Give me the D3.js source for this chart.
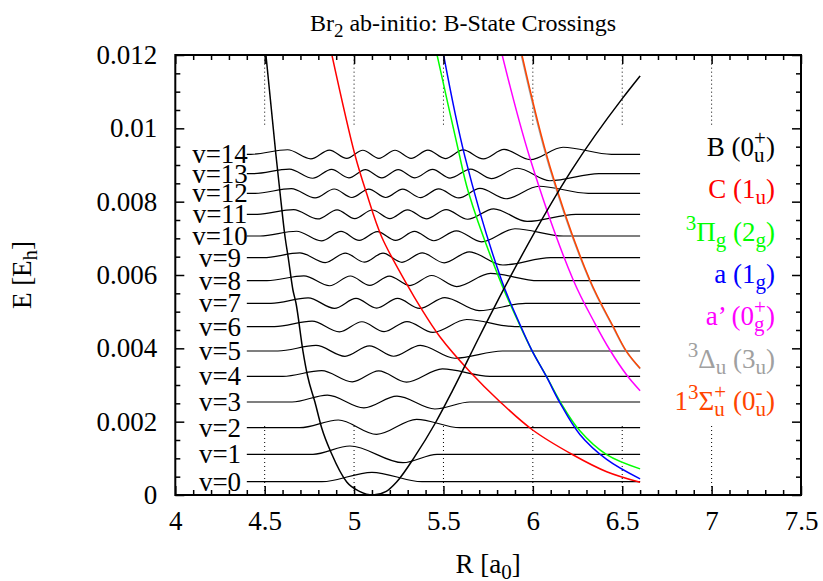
<!DOCTYPE html>
<html><head><meta charset="utf-8">
<script src="https://cdn.jsdelivr.net/npm/d3@7"></script>
<style>
body{margin:0;background:#fff}
svg text{font-family:"Liberation Serif","Times New Roman",Times,serif;fill:#000;white-space:pre}
</style>
</head><body>
<svg id="chart" width="823" height="581"></svg>
<script>
// ---------- data ----------
const xTicks = [4, 4.5, 5, 5.5, 6, 6.5, 7, 7.5];
const xTickLabels = ["4", "4.5", "5", "5.5", "6", "6.5", "7", "7.5"];
const yTicks = [0, 0.002, 0.004, 0.006, 0.008, 0.01, 0.012];
const yTickLabels = ["0", "0.002", "0.004", "0.006", "0.008", "0.01", "0.012"];
const gridR = [4.5, 5, 5.5, 6, 6.5, 7];
const gridGap = [0.00195, 0.0101];

// potential curves [R, E]
const curveB = [[4.507,0.0120],[4.563,0.009273],[4.586,0.008237],[4.614,0.007036],[4.632,0.006464],[4.658,0.005591],[4.675,0.005236],[4.714,0.003927],[4.740,0.003245],[4.781,0.002536],[4.819,0.001827],[4.875,0.001118],[4.959,0.000355],[5.03,0.0001],[5.105,0],[5.18,0.0001],[5.238,0.000355],[5.341,0.00106],[5.453,0.00195],[5.55,0.00284],[5.70,0.00431],[5.866,0.00588],[6.217,0.00886],[6.5,0.01081],[6.6,0.01143]];
const curveC = [[4.876,0.0120],[5.005,0.009273],[5.070,0.008228],[5.154,0.007045],[5.303,0.005681],[5.369,0.005136],[5.480,0.004317],[5.648,0.003363],[5.816,0.002545],[5.999,0.001773],[6.226,0.001091],[6.413,0.000635],[6.6,0.000346]];
const curvePi = [[5.462,0.01205],[5.583,0.00941],[5.639,0.00827],[5.816,0.00586],[5.928,0.00462],[5.993,0.00396],[6.077,0.00323],[6.151,0.00256],[6.263,0.00175],[6.413,0.00110],[6.6,0.000712]];
const curveA = [[5.499,0.01205],[5.620,0.00923],[5.825,0.00586],[5.928,0.00465],[5.993,0.00396],[6.077,0.00322],[6.151,0.00252],[6.263,0.00165],[6.413,0.00097],[6.6,0.000438]];
const curveAp = [[5.826,0.012047],[5.984,0.009183],[6.226,0.005864],[6.347,0.004683],[6.431,0.003955],[6.525,0.003273],[6.6,0.002845]];
const curveDelta = [[5.933,0.012047],[6.092,0.008954],[6.316,0.005864],[6.447,0.00459],[6.523,0.003908],[6.6,0.003440]];
const curveSigma = [[5.937,0.012047],[6.096,0.008954],[6.319,0.005864],[6.450,0.00459],[6.525,0.003908],[6.6,0.003455]];

// vibrational levels v=0..14
const vLabels = ["v=0","v=1","v=2","v=3","v=4","v=5","v=6","v=7","v=8","v=9","v=10","v=11","v=12","v=13","v=14"];
const levels = [0.000363,0.001110,0.001835,0.002536,0.003237,0.003927,0.004590,0.005228,0.005844,0.006472,0.007064,0.007656,0.008228,0.008763,0.009292];
const waveStart = 4.40, waveEnd = 6.6, vLabelR = 4.25;
const waveTails = [[4.820,5.380],[4.770,5.464],[4.697,5.592],[4.653,5.648],[4.602,5.76],[4.574,5.83],[4.555,5.90],[4.535,5.96],[4.513,6.03],[4.492,6.10],[4.474,6.17],[4.459,6.24],[4.446,6.31],[4.435,6.37],[4.423,6.44]];
const waveR = [
 [5.100],
 [4.977,5.274],
 [4.912,5.126,5.350],
 [4.851,5.055,5.240,5.452],
 [4.819,4.990,5.138,5.293,5.494],
 [4.787,4.949,5.086,5.221,5.371,5.563],
 [4.765,4.918,5.044,5.168,5.296,5.441,5.630],
 [4.743,4.890,5.011,5.126,5.243,5.367,5.508,5.699],
 [4.719,4.863,4.979,5.088,5.197,5.312,5.434,5.574,5.763],
 [4.697,4.839,4.951,5.057,5.162,5.268,5.381,5.504,5.644,5.832],
 [4.678,4.817,4.927,5.029,5.130,5.232,5.338,5.446,5.572,5.713,5.900],
 [4.662,4.797,4.905,5.004,5.102,5.200,5.299,5.404,5.515,5.636,5.781,5.968],
 [4.649,4.782,4.889,4.988,5.082,5.177,5.272,5.371,5.473,5.586,5.704,5.850,6.034],
 [4.638,4.769,4.874,4.971,5.063,5.155,5.247,5.340,5.439,5.537,5.652,5.767,5.914,6.096],
 [4.628,4.758,4.862,4.959,5.049,5.139,5.229,5.319,5.413,5.510,5.610,5.723,5.839,5.985,6.169]
];
const waveAmp = [
 [0.000256],
 [0.000226,-0.000229],
 [0.00021,-0.00018,0.00023],
 [0.00019,-0.00016,0.00016,-0.00019],
 [0.000154,-0.000150,0.000149,-0.000158,0.000203],
 [0.000151,-0.000144,0.000140,-0.000143,0.000154,-0.000197],
 [0.000150,-0.000142,0.000135,-0.000136,0.000141,-0.000154,0.000196],
 [0.000148,-0.000138,0.000132,-0.000130,0.000133,-0.000140,0.000157,-0.000200],
 [0.000133,-0.000137,0.000129,-0.000126,0.000127,-0.000132,0.000142,-0.000161,0.000198],
 [0.000131,-0.000135,0.000126,-0.000122,0.000122,-0.000125,0.000130,-0.000140,0.000159,-0.000199],
 [0.000129,-0.000133,0.000124,-0.000120,0.000119,-0.000120,0.000124,-0.000130,0.000140,-0.000159,0.000198],
 [0.000129,-0.000128,0.000121,-0.000118,0.000117,-0.000117,0.000120,-0.000123,0.000128,-0.000135,0.000150,-0.000196],
 [0.000126,-0.000126,0.000118,-0.000115,0.000114,-0.000114,0.000115,-0.000118,0.000121,-0.000126,0.000134,-0.000149,0.000193],
 [0.000125,-0.000125,0.000117,-0.000114,0.000112,-0.000112,0.000113,-0.000114,0.000117,-0.000120,0.000125,-0.000133,0.000148,-0.000192],
 [0.000124,-0.000124,0.000116,-0.000112,0.000110,-0.000110,0.000110,-0.000110,0.000113,-0.000116,0.000119,-0.000125,0.000132,-0.000147,0.000192]
];

// legend (key) entries: [kind, text] ; kind n=normal, sp=superscript, sb=subscript, st=stacked sup+sub
const seriesColors = ["#000000","#ff0000","#00ff00","#0000ff","#ff00ff","#a0a0a0","#ff4500"];
const legendParts = [
 [["n","B (0"],["st","+","u"],["n",")"]],
 [["n","C (1"],["sb","u"],["n",")"]],
 [["sp","3"],["n","\u03a0"],["sb","g"],["n"," (2"],["sb","g"],["n",")"]],
 [["n","a (1"],["sb","g"],["n",")"]],
 [["n","a\u2019 (0"],["st","+","g"],["n",")"]],
 [["sp","3"],["n","\u0394"],["sb","u"],["n"," (3"],["sb","u"],["n",")"]],
 [["n","1"],["sp","3"],["n","\u03a3"],["st","+","u"],["n"," (0"],["st","-","u"],["n",")"]]
];
const legendE = [0.009245, 0.00810, 0.006928, 0.005782, 0.004636, 0.003464, 0.002318];
const legendR = 7.354;

// ---------- drawing ----------
const W = 823, H = 581;
const m = {left: 175.3, right: 801, top: 55, bottom: 495};
const FS = 27, SFS = 21;
const svg = d3.select("#chart");
const x = d3.scaleLinear().domain([4, 7.5]).range([m.left, m.right]);
const y = d3.scaleLinear().domain([0, 0.012]).range([m.bottom, m.top]);

svg.append("defs").append("clipPath").attr("id","clip")
  .append("rect").attr("x", m.left).attr("y", m.top)
  .attr("width", m.right - m.left).attr("height", m.bottom - m.top);

// grid (dotted, interrupted in the middle)
const grid = svg.append("g");
gridR.forEach(r => {
  [[0, gridGap[0]], [gridGap[1], 0.012]].forEach(([e0, e1]) => {
    grid.append("line").attr("x1", x(r)).attr("x2", x(r)).attr("y1", y(e0)).attr("y2", y(e1))
      .attr("stroke", "#000").attr("stroke-width", 1).attr("stroke-dasharray", "1,3");
  });
});

const plot = svg.append("g").attr("clip-path", "url(#clip)");
const line = d3.line().x(d => x(d[0])).y(d => y(d[1])).curve(d3.curveMonotoneX);

// wavefunctions
levels.forEach((ev, i) => {
  const pts = [[waveStart, ev], [waveTails[i][0], ev]];
  waveR[i].forEach((r, k) => pts.push([r, ev + waveAmp[i][k]]));
  pts.push([waveTails[i][1], ev], [waveEnd, ev]);
  plot.append("path").attr("d", line(pts)).attr("fill", "none")
    .attr("stroke", "#000").attr("stroke-width", 1.2);
});

// potential curves
const lineC = d3.line().x(d => x(d[0])).y(d => y(d[1])).curve(d3.curveCatmullRom.alpha(0.5));
[[curveDelta, 5], [curveSigma, 6], [curveAp, 4], [curvePi, 2], [curveA, 3], [curveC, 1]].forEach(([c, ci]) => {
  plot.append("path").attr("d", lineC(c)).attr("fill", "none")
    .attr("stroke", seriesColors[ci]).attr("stroke-width", 1.5);
});
plot.append("path").attr("d", line(curveB)).attr("fill", "none")
  .attr("stroke", seriesColors[0]).attr("stroke-width", 1.5);

// v labels
levels.forEach((ev, i) => {
  svg.append("text").attr("x", x(vLabelR)).attr("y", y(ev)).attr("dy", "0.34em")
    .attr("text-anchor", "middle").attr("font-size", FS).text(vLabels[i]);
});

// axes with inward ticks
const minorX = d3.range(40, 76).map(d => d / 10).filter(d => Math.abs(d * 2 - Math.round(d * 2)) > 1e-9);
const minorY = d3.range(0, 25).map(d => d * 0.0005).filter((d, i) => i % 4 !== 0);
function styleAxis(g) {
  g.select(".domain").remove();
  g.selectAll(".tick line").attr("stroke", "#000").attr("stroke-width", 1.5);
  g.selectAll("text").attr("font-size", FS).attr("fill", "#000");
}
svg.append("g").attr("transform", `translate(0,${m.bottom})`)
  .call(d3.axisBottom(x).tickValues(xTicks).tickFormat((d, i) => xTickLabels[i]).tickSize(-9).tickSizeOuter(0).tickPadding(16))
  .call(styleAxis);
svg.append("g").attr("transform", `translate(0,${m.bottom})`)
  .call(d3.axisBottom(x).tickValues(minorX).tickFormat("").tickSize(-5).tickSizeOuter(0)).call(styleAxis);
svg.append("g").attr("transform", `translate(0,${m.top})`)
  .call(d3.axisTop(x).tickValues(xTicks).tickFormat("").tickSize(-9).tickSizeOuter(0)).call(styleAxis);
svg.append("g").attr("transform", `translate(0,${m.top})`)
  .call(d3.axisTop(x).tickValues(minorX).tickFormat("").tickSize(-5).tickSizeOuter(0)).call(styleAxis);
svg.append("g").attr("transform", `translate(${m.left},0)`)
  .call(d3.axisLeft(y).tickValues(yTicks).tickFormat((d, i) => yTickLabels[i]).tickSize(-9).tickSizeOuter(0).tickPadding(18))
  .call(styleAxis);
svg.append("g").attr("transform", `translate(${m.left},0)`)
  .call(d3.axisLeft(y).tickValues(minorY).tickFormat("").tickSize(-5).tickSizeOuter(0)).call(styleAxis);
svg.append("g").attr("transform", `translate(${m.right},0)`)
  .call(d3.axisRight(y).tickValues(yTicks).tickFormat("").tickSize(-9).tickSizeOuter(0)).call(styleAxis);
svg.append("g").attr("transform", `translate(${m.right},0)`)
  .call(d3.axisRight(y).tickValues(minorY).tickFormat("").tickSize(-5).tickSizeOuter(0)).call(styleAxis);

svg.append("rect").attr("x", m.left).attr("y", m.top).attr("width", m.right - m.left)
  .attr("height", m.bottom - m.top).attr("fill", "none").attr("stroke", "#000").attr("stroke-width", 2);

// title
const title = svg.append("text").attr("x", 463).attr("y", 31).attr("text-anchor", "middle").attr("font-size", 24);
title.append("tspan").text("Br");
title.append("tspan").attr("dy", 6).attr("font-size", 19).text("2");
title.append("tspan").attr("dy", -6).text(" ab-initio: B-State Crossings");

// axis labels
const xl = svg.append("text").attr("x", (m.left + m.right) / 2).attr("y", 573).attr("text-anchor", "middle").attr("font-size", FS);
xl.append("tspan").text("R [a");
xl.append("tspan").attr("dy", 6).attr("font-size", SFS).text("0");
xl.append("tspan").attr("dy", -6).text("]");
const yl = svg.append("text").attr("transform", `translate(31,${(m.top + m.bottom) / 2}) rotate(-90)`)
  .attr("text-anchor", "middle").attr("font-size", FS);
yl.append("tspan").text("E [E");
yl.append("tspan").attr("dy", 6).attr("font-size", SFS).text("h");
yl.append("tspan").attr("dy", -6).text("]");

// legend / key with stacked super/subscripts
const meas = svg.append("text").attr("x", -1000).attr("y", -1000);
function tw(t, fs) { meas.attr("font-size", fs).text(t); return meas.node().getComputedTextLength(); }
legendParts.forEach((parts, i) => {
  const color = seriesColors[i];
  const widths = parts.map(p => p[0] === "n" ? tw(p[1], FS) : p[0] === "st" ? Math.max(tw(p[1], SFS), tw(p[2], SFS)) : tw(p[1], SFS));
  const total = d3.sum(widths);
  let cx = x(legendR) - total;
  const by = y(legendE[i]);
  const g = svg.append("g");
  parts.forEach((p, k) => {
    if (p[0] === "n") g.append("text").attr("x", cx).attr("y", by).attr("font-size", FS).style("fill", color).text(p[1]);
    else if (p[0] === "sp") g.append("text").attr("x", cx).attr("y", by - 11).attr("font-size", SFS).style("fill", color).text(p[1]);
    else if (p[0] === "sb") g.append("text").attr("x", cx).attr("y", by + 6).attr("font-size", SFS).style("fill", color).text(p[1]);
    else {
      g.append("text").attr("x", cx).attr("y", by - 11).attr("font-size", SFS).style("fill", color).text(p[1]);
      g.append("text").attr("x", cx).attr("y", by + 6).attr("font-size", SFS).style("fill", color).text(p[2]);
    }
    cx += widths[k];
  });
});
meas.remove();
</script>
</body></html>
